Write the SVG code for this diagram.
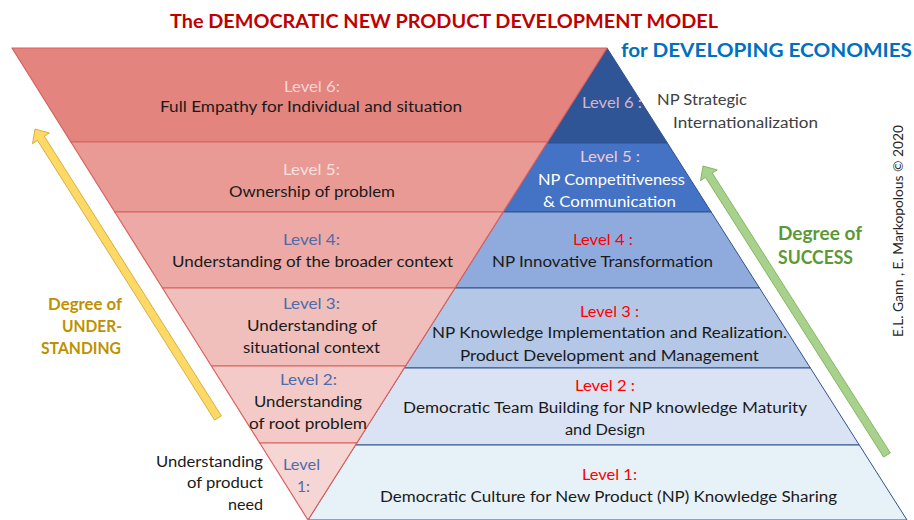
<svg xmlns="http://www.w3.org/2000/svg" width="914" height="520" viewBox="0 0 914 520">
<style>
  text { font-family: Lato, "Open Sans", "Liberation Sans", sans-serif; font-size: 15.5px; fill: #1a1a1a; }
  .c { text-anchor: middle; }
  .r { text-anchor: end; }
  .title { font-weight: bold; font-size: 19px; }
  .rb { stroke: #DC5F5B; stroke-width: 1.2; stroke-linejoin: round; }
  .bb { stroke: #2F528F; stroke-width: 1; stroke-linejoin: round; }
  .lvb { fill: #4F6BA8; }
  .lvr { fill: #FF0000; }
  .gold { fill: #BF9000; font-weight: bold; font-size: 17px; }
  .green { fill: #5A9A36; font-weight: bold; font-size: 19px; }
</style>
<rect width="914" height="520" fill="#FFFFFF"/>

<!-- Titles -->
<g id="title">
  <text class="title c" x="444" y="28" fill="#C00000" style="fill:#C00000" textLength="548" lengthAdjust="spacingAndGlyphs">The DEMOCRATIC NEW PRODUCT DEVELOPMENT MODEL</text>
  <text class="title" x="621" y="57" style="fill:#0070C0" textLength="291" lengthAdjust="spacingAndGlyphs">for DEVELOPING ECONOMIES</text>
</g>

<!-- Blue pyramid (success) -->
<g id="success-pyramid">
  <g id="np-level6">
    <polygon class="bb" fill="#2F5597" points="607,48 667.4,143 546.8,143"/>
    <text x="582" y="108" style="fill:#D4B6CB" textLength="60" lengthAdjust="spacingAndGlyphs">Level 6 :</text>
    <text x="657" y="105" style="fill:#404040" textLength="90" lengthAdjust="spacingAndGlyphs">NP Strategic</text>
    <text x="673" y="128" style="fill:#404040" textLength="145" lengthAdjust="spacingAndGlyphs">Internationalization</text>
  </g>
  <g id="np-level5">
    <polygon class="bb" fill="#4472C4" points="546.8,143 667.4,143 711.2,212 503.1,212"/>
    <text class="c" x="610" y="162" style="fill:#F2C9CF" textLength="60" lengthAdjust="spacingAndGlyphs">Level 5 :</text>
    <text class="c" x="611.5" y="185" style="fill:#FFFFFF" textLength="147" lengthAdjust="spacingAndGlyphs">NP Competitiveness</text>
    <text class="c" x="609.5" y="207" style="fill:#FFFFFF" textLength="133" lengthAdjust="spacingAndGlyphs">&amp; Communication</text>
  </g>
  <g id="np-level4">
    <polygon class="bb" fill="#8FAADC" points="503.1,212 711.2,212 759.5,288 455,288"/>
    <text class="c lvr" x="603" y="245" textLength="60" lengthAdjust="spacingAndGlyphs">Level 4 :</text>
    <text class="c" x="602.5" y="267" textLength="221" lengthAdjust="spacingAndGlyphs">NP Innovative Transformation</text>
  </g>
  <g id="np-level3">
    <polygon class="bb" fill="#B4C7E7" points="455,288 759.5,288 810.4,368 404.3,368"/>
    <text class="c lvr" x="609.5" y="317" textLength="59" lengthAdjust="spacingAndGlyphs">Level 3 :</text>
    <text class="c" x="609.5" y="338" textLength="355" lengthAdjust="spacingAndGlyphs">NP Knowledge Implementation and Realization.</text>
    <text class="c" x="609.5" y="361" textLength="299" lengthAdjust="spacingAndGlyphs">Product Development and Management</text>
  </g>
  <g id="np-level2">
    <polygon class="bb" fill="#DAE3F3" points="404.3,368 810.4,368 859.3,445 355.5,445"/>
    <text class="c lvr" x="605" y="391" textLength="60" lengthAdjust="spacingAndGlyphs">Level 2 :</text>
    <text class="c" x="605" y="413" textLength="404" lengthAdjust="spacingAndGlyphs">Democratic Team Building for NP knowledge Maturity</text>
    <text class="c" x="605" y="435" textLength="80" lengthAdjust="spacingAndGlyphs">and Design</text>
  </g>
  <g id="np-level1">
    <polygon class="bb" fill="#E7F2F8" points="355.5,445 859.3,445 907,520 308,520"/>
    <text class="c lvr" x="609.5" y="480" textLength="55" lengthAdjust="spacingAndGlyphs">Level 1:</text>
    <text class="c" x="608.5" y="502" textLength="457" lengthAdjust="spacingAndGlyphs">Democratic Culture for New Product (NP) Knowledge Sharing</text>
  </g>
</g>

<!-- Red inverted pyramid (understanding) -->
<g id="understanding-pyramid">
  <g id="u-level6">
    <polygon class="rb" fill="#E3847E" points="12,48 607,48 547.5,142 70.9,142"/>
    <text class="c" x="312" y="92" style="fill:#F3D6D3" textLength="56" lengthAdjust="spacingAndGlyphs">Level 6:</text>
    <text class="c" x="311" y="112" textLength="302" lengthAdjust="spacingAndGlyphs">Full Empathy for Individual and situation</text>
  </g>
  <g id="u-level5">
    <polygon class="rb" fill="#E99A95" points="70.9,142 547.5,142 503.1,212 114.8,212"/>
    <text class="c" x="311.5" y="175" style="fill:#F6E0DF" textLength="57" lengthAdjust="spacingAndGlyphs">Level 5:</text>
    <text class="c" x="312" y="197" textLength="166" lengthAdjust="spacingAndGlyphs">Ownership of problem</text>
  </g>
  <g id="u-level4">
    <polygon class="rb" fill="#EDA9A5" points="114.8,212 503.1,212 455,288 162.5,288"/>
    <text class="c lvb" x="311.5" y="245" textLength="57" lengthAdjust="spacingAndGlyphs">Level 4:</text>
    <text class="c" x="312.5" y="267" textLength="281" lengthAdjust="spacingAndGlyphs">Understanding of the broader context</text>
  </g>
  <g id="u-level3">
    <polygon class="rb" fill="#F0BFBC" points="162.5,288 455,288 405.5,366 211.4,366"/>
    <text class="c lvb" x="311.5" y="309" textLength="57" lengthAdjust="spacingAndGlyphs">Level 3:</text>
    <text class="c" x="312" y="331" textLength="130" lengthAdjust="spacingAndGlyphs">Understanding of</text>
    <text class="c" x="311.5" y="353" textLength="137" lengthAdjust="spacingAndGlyphs">situational context</text>
  </g>
  <g id="u-level2">
    <polygon class="rb" fill="#F3CAC8" points="211.4,366 405.5,366 356.8,443 259.7,443"/>
    <text class="c lvb" x="308.5" y="385" textLength="57" lengthAdjust="spacingAndGlyphs">Level 2:</text>
    <text class="c" x="308" y="407" textLength="108" lengthAdjust="spacingAndGlyphs">Understanding</text>
    <text class="c" x="308" y="429" textLength="118" lengthAdjust="spacingAndGlyphs">of root problem</text>
  </g>
  <g id="u-level1">
    <polygon class="rb" fill="#F6D6D5" points="259.7,443 356.8,443 308,520"/>
    <text class="c lvb" x="301.5" y="470" textLength="37" lengthAdjust="spacingAndGlyphs">Level</text>
    <text class="c lvb" x="303.5" y="492">1:</text>
  </g>
  <g id="u-level1-label">
    <text class="r" x="263" y="467" textLength="107" lengthAdjust="spacingAndGlyphs">Understanding</text>
    <text class="r" x="263" y="488" textLength="76" lengthAdjust="spacingAndGlyphs">of product</text>
    <text class="r" x="263" y="510" textLength="35" lengthAdjust="spacingAndGlyphs">need</text>
  </g>
</g>

<!-- Direction arrows -->
<g id="arrows">
  <g id="arrow-understanding">
    <polygon fill="#FFD966" stroke="#C9A227" stroke-width="0.8" stroke-linejoin="round" points="221.4,415.9 44.3,136.2 49.4,133 35,129 32.5,143.7 37.5,140.4 214.6,420.1"/>
  </g>
  <g id="arrow-success">
    <polygon fill="#A9D18E" stroke="#70AD47" stroke-width="0.8" stroke-linejoin="round" points="890.4,452.9 712.3,173.1 717.3,169.9 703,166 700.5,180.7 705.5,177.4 883.6,457.1"/>
  </g>
</g>

<g id="label-understanding">
  <text class="r gold" x="122" y="310" textLength="74" lengthAdjust="spacingAndGlyphs">Degree of</text>
  <text class="r gold" x="122" y="332" textLength="60" lengthAdjust="spacingAndGlyphs">UNDER-</text>
  <text class="r gold" x="121" y="354" textLength="80" lengthAdjust="spacingAndGlyphs">STANDING</text>
</g>
<g id="label-success">
  <text class="green" x="778" y="240" textLength="84" lengthAdjust="spacingAndGlyphs">Degree of</text>
  <text class="green" x="778" y="264" textLength="75" lengthAdjust="spacingAndGlyphs">SUCCESS</text>
</g>

<g id="copyright">
  <text transform="translate(903,337) rotate(-90)" x="0" y="0" style="fill:#262626; font-size:13px" textLength="212" lengthAdjust="spacingAndGlyphs">E.L. Gann , E. Markopolous © 2020</text>
</g>
</svg>
